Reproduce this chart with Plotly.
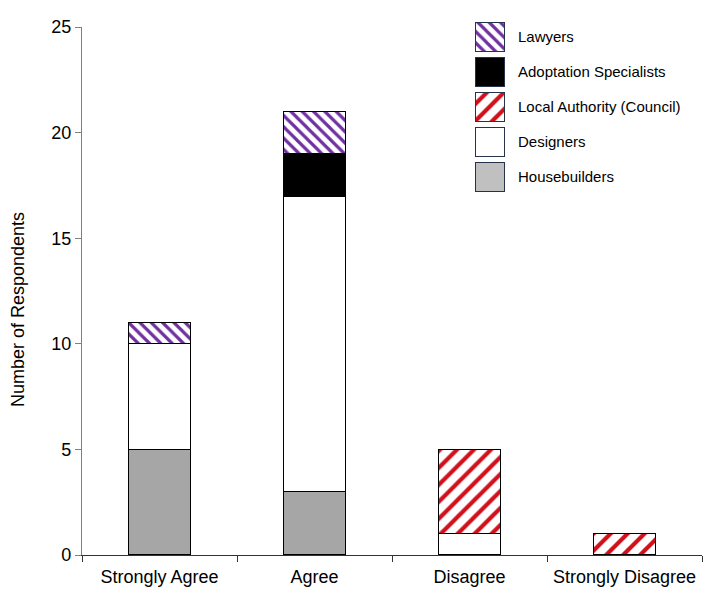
import plotly.graph_objects as go

categories = ["Strongly Agree", "Agree", "Disagree", "Strongly Disagree"]
housebuilders = [5, 3, 0, 0]
designers = [5, 14, 1, 0]
local_authority = [0, 0, 4, 1]
adoptation = [0, 2, 0, 0]
lawyers = [1, 2, 0, 0]

legend_order = ["Housebuilders", "Designers", "Local Authority (Council)",
                "Adoptation Specialists", "Lawyers"]

FONT = "Liberation Sans, Arial, sans-serif"

styles = {
    "Housebuilders": dict(color="#a6a6a6", legend_color="#c0c0c0", pattern=None),
    "Designers": dict(color="#ffffff", legend_color="#ffffff", pattern=None),
    "Local Authority (Council)": dict(color="#fff3ea", legend_color="#fff3ea",
                                      pattern=dict(shape="/", fgcolor="#d0101a", size=12, solidity=0.35)),
    "Adoptation Specialists": dict(color="#000000", legend_color="#000000", pattern=None),
    "Lawyers": dict(color="#f5ecfa", legend_color="#f5ecfa",
                    pattern=dict(shape="\\", fgcolor="#7030a0", size=8, solidity=0.4)),
}

series = {
    "Housebuilders": housebuilders,
    "Designers": designers,
    "Local Authority (Council)": local_authority,
    "Adoptation Specialists": adoptation,
    "Lawyers": lawyers,
}

fig = go.Figure()

for name in legend_order:
    st = styles[name]
    marker = dict(color=st["color"], line=dict(color="#000000", width=1.2))
    if st["pattern"]:
        marker["pattern"] = dict(st["pattern"], fillmode="replace")
    vals = [v if v else None for v in series[name]]
    fig.add_trace(go.Bar(x=categories, y=vals, name=name, marker=marker,
                         showlegend=False, hoverinfo="skip"))

# legend swatches drawn as bars on a small auxiliary axis
for name in legend_order:
    st = styles[name]
    marker = dict(color=st["legend_color"], line=dict(color="#26324a", width=1.5))
    if st["pattern"]:
        marker["pattern"] = dict(st["pattern"], fillmode="replace")
    fig.add_trace(go.Bar(x=[1], y=[name], orientation="h", base=0, width=0.83,
                         marker=marker, xaxis="x2", yaxis="y2",
                         showlegend=False, hoverinfo="skip"))

fig.update_layout(
    width=709, height=597,
    margin=dict(l=82, r=7, t=15, b=42, autoexpand=False),
    barmode="stack",
    bargap=0.6,
    paper_bgcolor="white",
    plot_bgcolor="white",
    font=dict(family=FONT, color="#000000", size=18),
    xaxis=dict(
        domain=[0, 1], range=[-0.5, 3.5], type="category",
        showline=True, linecolor="#333333", linewidth=1.2,
        ticks="outside", tickson="boundaries", ticklen=6, tickcolor="#333333",
        showgrid=False, zeroline=False, automargin=False, ticklabelstandoff=5,
        tickfont=dict(size=18, family=FONT, color="#000000"),
    ),
    yaxis=dict(
        domain=[0, 528 / 540], range=[0, 25], tickvals=[0, 5, 10, 15, 20, 25],
        showline=True, linecolor="#808080", linewidth=1.2,
        ticks="outside", ticklen=6, tickcolor="#808080",
        showgrid=False, zeroline=False, automargin=False,
        tickfont=dict(size=18, family=FONT, color="#000000"),
    ),
    xaxis2=dict(
        domain=[(475 - 82) / 620, (505 - 82) / 620], range=[0, 1], anchor="y2",
        visible=False, fixedrange=True,
    ),
    yaxis2=dict(
        domain=[(555 - 194.5) / 540, (555 - 19.5) / 540], anchor="x2",
        type="category", categoryorder="array", categoryarray=legend_order,
        range=[-0.5, 4.5], side="right", showline=False, showgrid=False,
        zeroline=False, ticks="", ticklabelstandoff=12, automargin=False,
        tickfont=dict(size=15, family=FONT, color="#000000"),
    ),
    annotations=[dict(
        text="Number of Respondents", textangle=-90, showarrow=False,
        xref="paper", yref="paper", x=(18 - 82) / 620, y=(555 - 310) / 540,
        xanchor="center", yanchor="middle",
        font=dict(size=18, family=FONT, color="#000000"),
    )],
)

fig.write_html("out.html", config={"displayModeBar": False},
               post_script="document.body.style.margin='0';document.body.style.padding='0';")
